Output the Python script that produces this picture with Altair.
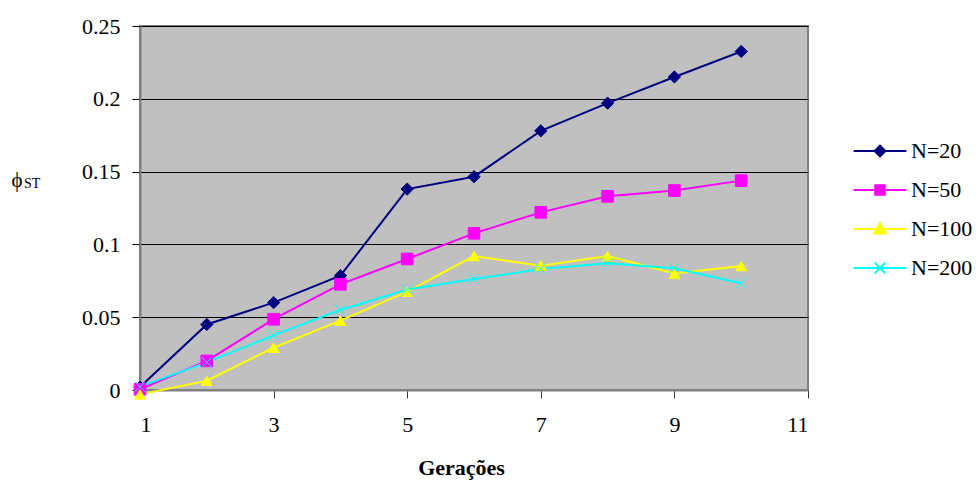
import altair as alt
import pandas as pd

# ---- data ----
geracoes = [1, 2, 3, 4, 5, 6, 7, 8, 9, 10]
series_names = ["N=20", "N=50", "N=100", "N=200"]
n20 = [0.002, 0.045, 0.060, 0.0785, 0.138, 0.1465, 0.178, 0.197, 0.215, 0.2325]
n50 = [0.0005, 0.020, 0.0486, 0.0726, 0.090, 0.1076, 0.122, 0.133, 0.137, 0.1438]
n100 = [-0.003, 0.0064, 0.029, 0.0476, 0.0675, 0.092, 0.0854, 0.092, 0.080, 0.0852]
n200 = [0.0023, 0.019, 0.0375, 0.055, 0.069, 0.0762, 0.0831, 0.087, 0.0836, 0.0733]
x_ticks = [1, 3, 5, 7, 9, 11]
y_ticks = [0, 0.05, 0.1, 0.15, 0.2, 0.25]

colors = ["#000080", "#FF00FF", "#FFFF00", "#00FFFF"]
X_PATH = "M-1,-1L1,1M-1,1L1,-1"
marker_shapes = ["diamond", "square", "triangle-up", X_PATH]
marker_sizes = [150, 105, 150, 110]
marker_strokes = [1, 1, 1, 2]
legend_shapes = [
    "M-4.4,0H4.4M-0.9,0L0,-0.9L0.9,0L0,0.9Z",
    "M-4.4,0H4.4M-0.8,-0.8H0.8V0.8H-0.8Z",
    "M-4.4,0H4.4M0,-0.95L0.95,0.75H-0.95Z",
    "M-4.4,0H4.4M-0.9,-0.9L0.9,0.9M-0.9,0.9L0.9,-0.9",
]

rows = []
for name, vals in zip(series_names, [n20, n50, n100, n200]):
    for g, v in zip(geracoes, vals):
        rows.append({"Geracao": g, "phi": v, "Serie": name})
df = pd.DataFrame(rows)

FONT = "Times New Roman, Liberation Serif, serif"

x_enc = alt.X(
    "Geracao:Q",
    scale=alt.Scale(domain=[1, 11], nice=False, zero=False),
    axis=alt.Axis(
        values=x_ticks, grid=False, title="Gerações",
        labelFont=FONT, labelFontSize=22, labelColor="black", labelPadding=16,
        tickSize=8, tickColor="#333333", tickWidth=1,
        domainColor="#808080", domainWidth=2,
        titleFont=FONT, titleFontSize=22, titleFontWeight="bold", titleColor="black",
        titleX=321, titleY=84, titleBaseline="alphabetic",
    ),
)
y_enc = alt.Y(
    "phi:Q",
    scale=alt.Scale(domain=[0, 0.25], nice=False, zero=False),
    axis=alt.Axis(
        values=y_ticks, format="~g", grid=True, gridColor="black", gridWidth=1,
        labelFont=FONT, labelFontSize=22, labelColor="black", labelPadding=12,
        tickSize=8, tickColor="black", tickWidth=1,
        domainColor="#808080", domainWidth=2,
        title="ϕ", titleAngle=0, titleAlign="left", titleBaseline="alphabetic",
        titleX=-129, titleY=160, titleFont=FONT, titleFontSize=21,
        titleFontWeight="normal", titleColor="black",
    ),
)

color_scale = alt.Scale(domain=series_names, range=colors)

base = alt.Chart(df)

lines = base.mark_line(strokeWidth=2).encode(
    x=x_enc, y=y_enc,
    color=alt.Color("Serie:N", scale=color_scale, legend=None),
)

points = base.mark_point(filled=True, opacity=1).encode(
    x=x_enc, y=y_enc,
    color=alt.Color("Serie:N", scale=color_scale, legend=None),
    stroke=alt.Stroke("Serie:N", scale=color_scale, legend=None),
    shape=alt.Shape("Serie:N", scale=alt.Scale(domain=series_names, range=marker_shapes), legend=None),
    size=alt.Size("Serie:N", scale=alt.Scale(domain=series_names, range=marker_sizes), legend=None),
    strokeWidth=alt.StrokeWidth("Serie:N", scale=alt.Scale(domain=series_names, range=marker_strokes), legend=None),
)

leg = alt.Legend(
    title=None, orient="none", legendX=729, legendY=114, padding=0,
    symbolSize=144, symbolStrokeWidth=2, symbolOpacity=1,
    labelFont=FONT, labelFontSize=22, labelColor="black",
    labelOffset=20, rowPadding=17,
)

legend_layer = base.mark_point(filled=True, opacity=0).encode(
    x=x_enc, y=y_enc,
    color=alt.Color("Serie:N", scale=color_scale, legend=leg),
    stroke=alt.Stroke("Serie:N", scale=color_scale, legend=leg),
    shape=alt.Shape("Serie:N", scale=alt.Scale(domain=series_names, range=legend_shapes), legend=leg),
)

sub = alt.Chart(pd.DataFrame({"t": ["ST"]})).mark_text(
    font=FONT, fontSize=14, align="left", baseline="alphabetic", color="black"
).encode(text="t:N", x=alt.value(-116), y=alt.value(162))

chart = alt.layer(lines, points, legend_layer, sub).resolve_scale(
    color="independent", stroke="independent", shape="independent",
    size="independent", strokeWidth="independent",
).properties(
    width=668, height=364,
    autosize=alt.AutoSizeParams(type="none"),
    padding={"left": 140, "top": 26, "right": 171, "bottom": 90},
    background="white",
).configure_view(
    fill="#C0C0C0", stroke="#808080", strokeWidth=2,
)

chart.save("out.html", embed_options={"renderer": "svg", "actions": False})
